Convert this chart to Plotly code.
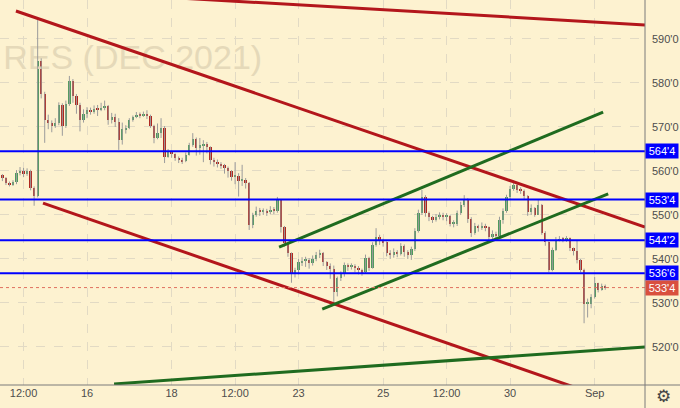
import plotly.graph_objects as go

# --------------------------------------------------------------------------- #
# Data (hourly-ish bars, 12 per trading day, x measured in trading days)
# --------------------------------------------------------------------------- #

BARS_PER_DAY = 12
FIRST_OPEN = 559.0

CLOSE = [
    558.4, 557.3, 557.0, 557.4, 559.6, 560.1, 559.4, 560.0, 556.2, 554.4, 585.0, 577.6,
    571.5, 570.8, 570.2, 570.9, 575.0, 570.3, 575.3, 580.5, 577.0, 574.9, 571.6, 572.9,
    573.8, 573.5, 574.2, 574.0, 574.3, 574.8, 571.5, 572.3, 571.2, 567.0, 569.5, 569.8,
    571.5, 572.2, 572.8, 572.6, 572.9, 572.5, 570.3, 567.4, 568.6, 569.8, 563.2, 564.3,
    563.8, 563.0, 562.6, 562.2, 563.7, 565.9, 567.2, 565.3, 565.9, 566.2, 565.4, 562.5,
    562.1, 561.6, 561.3, 560.6, 559.9, 558.7, 558.9, 557.8, 558.0, 557.2, 547.8, 549.9,
    551.0, 550.7, 550.9, 550.6, 551.2, 551.0, 553.4, 547.2, 543.6, 541.3, 536.8, 537.6,
    539.3, 539.6, 539.8, 539.0, 540.0, 541.0, 541.4, 539.3, 538.3, 537.8, 532.4, 535.6,
    536.6, 538.6, 538.2, 538.5, 538.0, 537.4, 537.0, 540.2, 538.0, 543.2, 545.0, 544.0,
    543.8, 541.4, 541.0, 541.6, 541.2, 543.0, 541.5, 541.0, 542.2, 546.3, 550.5, 554.1,
    550.4, 549.5, 548.9, 549.6, 550.1, 549.6, 549.8, 548.0, 548.0, 550.4, 552.3, 553.4,
    549.0, 545.9, 547.5, 547.0, 547.6, 547.2, 545.0, 545.6, 545.3, 548.9, 551.0, 554.0,
    556.0, 556.8, 555.7, 555.5, 554.3, 550.6, 551.5, 550.1, 552.3, 546.0, 543.9, 537.5,
    542.0, 544.3, 544.6, 544.4, 544.7, 542.5, 541.8, 539.8, 537.5, 529.8, 529.8, 531.4,
    534.5, 533.0, 533.8, 533.5,
]
HIGH = [
    559.3, 558.6, 557.6, 557.9, 560.2, 560.9, 560.7, 560.6, 560.3, 556.5, 594.3, 585.6,
    578.0, 572.8, 571.5, 572.0, 575.6, 575.4, 576.0, 581.6, 580.9, 577.5, 575.5, 574.0,
    574.5, 574.4, 574.9, 575.0, 575.5, 576.0, 575.0, 573.2, 573.0, 572.0, 571.0, 570.4,
    572.0, 572.6, 573.4, 573.3, 573.5, 573.8, 572.8, 570.5, 570.8, 572.0, 570.2, 565.0,
    564.6, 564.0, 563.3, 563.0, 564.2, 566.4, 568.6, 567.6, 567.5, 567.0, 566.6, 565.6,
    563.0, 562.6, 562.0, 561.6, 561.0, 560.2, 562.0, 559.5, 561.4, 558.4, 557.5, 550.5,
    551.9, 551.6, 551.5, 551.4, 552.0, 551.8, 554.1, 553.6, 547.5, 543.8, 541.5, 538.0,
    540.0, 540.4, 540.5, 540.2, 540.8, 541.6, 542.1, 541.6, 539.5, 539.0, 538.5, 536.0,
    537.2, 539.2, 539.0, 539.0, 538.8, 538.4, 537.8, 541.0, 540.5, 543.8, 547.0, 545.5,
    544.6, 544.0, 542.0, 542.4, 542.0, 543.6, 543.3, 542.0, 542.8, 547.0, 551.2, 555.7,
    554.5, 550.8, 549.8, 550.2, 550.6, 550.5, 550.4, 550.0, 548.8, 551.0, 553.0, 554.5,
    553.8, 549.5, 548.2, 547.8, 548.3, 548.0, 547.4, 546.5, 546.2, 549.6, 551.5, 554.6,
    556.6, 557.9, 557.2, 556.3, 555.8, 554.5, 552.4, 551.8, 553.4, 552.5, 546.3, 544.0,
    542.6, 545.0, 545.2, 545.0, 545.2, 544.9, 542.6, 544.3, 540.0, 537.8, 531.0, 532.0,
    535.9, 534.6, 534.4, 534.2,
]
LOW = [
    557.7, 556.8, 556.5, 556.6, 557.0, 559.0, 558.6, 558.9, 555.6, 552.1, 554.0, 576.5,
    566.4, 569.5, 568.8, 569.8, 570.4, 568.0, 569.8, 574.8, 575.5, 573.0, 569.0, 571.0,
    572.0, 572.8, 573.0, 572.5, 573.6, 573.8, 570.5, 570.8, 570.0, 564.8, 566.0, 568.5,
    569.5, 571.2, 572.0, 572.0, 572.3, 571.8, 569.8, 566.3, 567.2, 567.5, 561.8, 563.0,
    563.0, 562.3, 561.8, 561.6, 562.0, 563.5, 565.5, 563.5, 563.7, 562.0, 564.0, 561.5,
    561.0, 560.8, 560.5, 559.4, 558.5, 557.8, 557.0, 554.2, 556.6, 556.0, 546.6, 547.0,
    549.6, 549.8, 550.0, 549.8, 550.2, 550.2, 550.5, 546.0, 542.8, 540.5, 534.6, 535.8,
    536.5, 538.4, 538.2, 537.8, 538.5, 539.5, 540.2, 538.4, 537.5, 535.5, 530.0, 531.5,
    535.0, 536.0, 537.3, 537.6, 537.0, 536.5, 536.2, 536.6, 537.3, 537.8, 542.8, 543.2,
    542.8, 540.6, 540.0, 540.3, 540.4, 540.8, 540.5, 540.0, 539.8, 541.8, 546.0, 550.0,
    549.6, 548.6, 548.2, 548.5, 549.0, 548.8, 548.6, 547.4, 547.2, 547.5, 550.0, 551.8,
    548.2, 545.0, 545.5, 546.2, 546.6, 546.3, 544.3, 544.5, 544.4, 545.0, 548.0, 550.5,
    553.5, 555.5, 555.0, 554.8, 553.6, 549.8, 550.0, 549.6, 550.0, 545.5, 543.0, 537.0,
    537.2, 541.8, 544.0, 543.8, 543.9, 541.8, 540.8, 539.0, 537.0, 525.4, 526.7, 528.8,
    531.0, 532.4, 532.8, 533.0,
]

TICK_DAYS = [0.5, 2, 4, 5.5, 7, 9, 10.5, 12, 14]
TICK_TEXT = ["12:00", "16", "18", "12:00", "23", "25", "12:00", "30", "Sep"]

PRICE_TICKS = [520, 530, 540, 550, 560, 570, 580, 590]
PRICE_TEXT = ["520'0", "530'0", "540'0", "550'0", "560'0", "570'0", "580'0", "590'0"]

LEVELS = [564.5, 553.5, 544.25, 536.75]
LEVEL_TEXT = ["564'4", "553'4", "544'2", "536'6"]
LAST_PRICE = 533.5
LAST_TEXT = "533'4"

# trend lines as (day, price) endpoints
RED_LINES = [
    ((4.0, 599.4), (15.19, 593.2)),
    ((0.32, 596.36), (15.19, 547.27)),
    ((0.96, 552.7), (13.6, 510.6)),
]
GREEN_LINES = [
    ((6.54, 542.7), (14.20, 573.4)),
    ((7.56, 528.6), (14.32, 554.8)),
    ((2.64, 511.6), (15.19, 520.0)),
]

WATERMARK = "RES (DEC 2021)"

# --------------------------------------------------------------------------- #
# Figure
# --------------------------------------------------------------------------- #

BG = "#fdf2d0"
UP = "#4d9a5c"
DOWN = "#b0261f"

x = [i / BARS_PER_DAY for i in range(len(CLOSE))]
opens = [FIRST_OPEN] + CLOSE[:-1]

fig = go.Figure()

# faint watermark, drawn first so it sits under the candles
fig.add_trace(
    go.Scatter(
        x=[6.14], y=[585.2], mode="text", text=[WATERMARK],
        textposition="middle left", cliponaxis=False,
        textfont=dict(family="Liberation Sans", size=34, color="#e5d9b9"),
        hoverinfo="skip",
    )
)

# wicks
wx, wy = [], []
for xi, h, l in zip(x, HIGH, LOW):
    wx += [xi, xi, None]
    wy += [l, h, None]
fig.add_trace(
    go.Scatter(x=wx, y=wy, mode="lines", line=dict(color="#9b9b9b", width=1),
               hoverinfo="skip")
)

# bodies
bases, heights, colors = [], [], []
for o, c in zip(opens, CLOSE):
    bases.append(min(o, c))
    heights.append(max(abs(c - o), 0.25))
    colors.append(UP if c >= o else DOWN)
fig.add_trace(
    go.Bar(x=x, y=heights, base=bases, width=0.055, marker_color=colors,
           marker_line_width=0, hoverinfo="skip")
)

for (x0, y0), (x1, y1) in RED_LINES:
    fig.add_trace(go.Scatter(x=[x0, x1], y=[y0, y1], mode="lines",
                             line=dict(color="#b3161b", width=3), hoverinfo="skip"))
for (x0, y0), (x1, y1) in GREEN_LINES:
    fig.add_trace(go.Scatter(x=[x0, x1], y=[y0, y1], mode="lines",
                             line=dict(color="#1f6b1f", width=3), hoverinfo="skip"))

# horizontal levels
for lvl, txt in zip(LEVELS, LEVEL_TEXT):
    fig.add_shape(type="line", xref="paper", x0=0, x1=1, yref="y", y0=lvl, y1=lvl,
                  line=dict(color="#0000ff", width=2))
    fig.add_annotation(xref="paper", x=1, xanchor="left", yref="y", y=lvl,
                       text=txt, showarrow=False, width=30, borderpad=1,
                       bgcolor="#0000ff",
                       font=dict(family="Liberation Sans", size=11, color="white"))

fig.add_shape(type="line", xref="paper", x0=0, x1=1, yref="y",
              y0=LAST_PRICE, y1=LAST_PRICE,
              line=dict(color="#e0705f", width=1, dash="dot"))
fig.add_annotation(xref="paper", x=1, xanchor="left", yref="y", y=LAST_PRICE,
                   text=LAST_TEXT, showarrow=False, width=30, borderpad=1,
                   bgcolor="#d9503f",
                   font=dict(family="Liberation Sans", size=11, color="white"))

# panel separators
fig.add_shape(type="line", xref="paper", x0=0, x1=680 / 645, yref="paper", y0=0, y1=0,
              line=dict(color="#7a7a7a", width=1))
fig.add_shape(type="line", xref="paper", x0=1, x1=1, yref="paper", y0=-23 / 385, y1=1,
              line=dict(color="#7a7a7a", width=1))

# settings gear in the corner box
fig.add_annotation(xref="paper", x=663 / 645, xanchor="center",
                   yref="paper", y=-11 / 385, yanchor="middle",
                   text="\u2699", showarrow=False,
                   font=dict(family="DejaVu Sans", size=17, color="#444"))

grid = dict(showgrid=True, gridcolor="#e2dac4", griddash="dash", gridwidth=1,
            zeroline=False, showline=False, ticks="")

fig.update_layout(
    width=680, height=408,
    margin=dict(l=0, r=35, t=0, b=23),
    paper_bgcolor=BG, plot_bgcolor=BG,
    showlegend=False,
    bargap=0,
    xaxis=dict(range=[-0.057, 15.19], tickvals=TICK_DAYS, ticktext=TICK_TEXT,
               tickfont=dict(family="Liberation Sans", size=11, color="#4d4d4d"),
               fixedrange=True, **grid),
    yaxis=dict(range=[511.36, 598.86], side="right", tickvals=PRICE_TICKS,
               ticktext=PRICE_TEXT, ticklabelstandoff=6,
               tickfont=dict(family="Liberation Sans", size=11, color="#4d4d4d"),
               fixedrange=True, **grid),
)

fig.write_html(
    "out.html",
    config={"displayModeBar": False},
    post_script="document.body.style.margin='0';",
)
